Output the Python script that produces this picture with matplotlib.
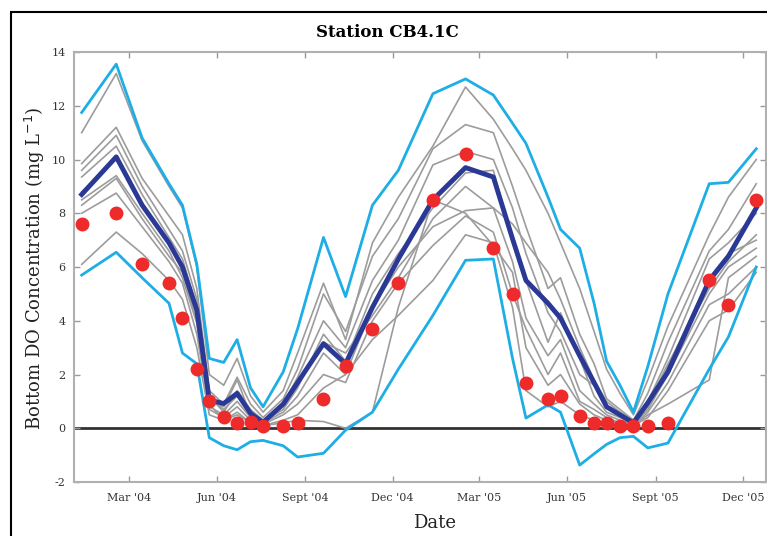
import matplotlib
matplotlib.use("Agg")
import matplotlib.pyplot as plt
from matplotlib.patches import Rectangle
import numpy as np

plt.rcParams['axes.unicode_minus'] = False

# sampling dates (cruise dates)
dates = np.array(['2004-01-12', '2004-02-17', '2004-03-15', '2004-04-12', '2004-04-26',
                  '2004-05-11', '2004-05-24', '2004-06-08', '2004-06-22', '2004-07-06',
                  '2004-07-19', '2004-08-09', '2004-08-24', '2004-09-20', '2004-10-13',
                  '2004-11-10', '2004-12-07', '2005-01-12', '2005-02-15', '2005-03-16',
                  '2005-04-05', '2005-04-19', '2005-05-12', '2005-05-25', '2005-06-14',
                  '2005-06-29', '2005-07-12', '2005-07-26', '2005-08-09', '2005-08-24',
                  '2005-09-14', '2005-10-27', '2005-11-16', '2005-12-15'], dtype='datetime64[D]')

observed = [7.6, 8.0, 6.1, 5.4, 4.1, 2.2, 1.0, 0.42, 0.2, 0.25, 0.1, 0.1, 0.2, 1.1, 2.3, 3.7,
            5.4, 8.5, 10.2, 6.7, 5.0, 1.7, 1.1, 1.2, 0.45, 0.2, 0.2, 0.1, 0.1, 0.1, 0.2,
            5.5, 4.6, 8.5]

ens_mean = [8.7, 10.1, 8.3, 6.9, 6.0, 4.4, 1.05, 0.92, 1.3, 0.55, 0.22, 0.9, 1.7, 3.15, 2.4,
            4.5, 6.3, 8.5, 9.7, 9.35, 7.05, 5.5, 4.65, 4.1, 2.7, 1.7, 0.8, 0.5, 0.2, 0.95,
            2.1, 5.5, 6.4, 8.2]

upper = [11.75, 13.55, 10.8, 9.1, 8.3, 6.1, 2.6, 2.45, 3.3, 1.5, 0.8, 2.1, 3.7, 7.1, 4.9,
         8.3, 9.6, 12.45, 13.0, 12.4, 11.35, 10.6, 8.6, 7.4, 6.7, 4.65, 2.5, 1.6, 0.6, 2.3,
         5.0, 9.1, 9.15, 10.4]

lower = [5.7, 6.55, 5.6, 4.65, 2.8, 2.4, -0.35, -0.65, -0.8, -0.5, -0.45, -0.65, -1.07,
         -0.93, -0.07, 0.6, 2.2, 4.2, 6.25, 6.3, 2.6, 0.38, 0.87, 0.6, -1.37, -0.95, -0.6,
         -0.35, -0.3, -0.73, -0.55, 2.2, 3.4, 6.0]

# individual ensemble members
members = [
    [11.0, 13.2, 10.7, 9.0, 8.2, 6.0, 2.0, 1.6, 2.6, 1.2, 0.6, 1.4, 2.8, 5.4, 3.3, 6.9, 8.6,
     10.5, 12.7, 11.5, 10.4, 9.6, 8.0, 6.9, 5.2, 3.6, 2.2, 1.3, 0.5, 1.8, 3.8, 7.2, 8.6, 10.0],
    [9.85, 11.2, 9.3, 7.9, 7.2, 5.2, 1.4, 0.9, 1.9, 0.9, 0.4, 1.1, 2.2, 5.0, 3.6, 6.4, 7.8,
     10.4, 11.3, 11.0, 9.0, 7.5, 5.2, 5.6, 3.5, 2.4, 1.1, 0.7, 0.3, 1.3, 3.2, 6.6, 7.4, 9.1],
    [9.6, 10.9, 9.0, 7.4, 6.6, 4.8, 1.2, 0.6, 1.4, 0.7, 0.3, 0.9, 1.9, 4.0, 3.0, 5.5, 7.0,
     9.8, 10.3, 10.0, 8.2, 6.5, 4.3, 3.6, 2.0, 1.6, 0.8, 0.5, 0.2, 1.0, 2.6, 6.3, 6.9, 8.0],
    [9.35, 10.5, 8.7, 7.1, 6.3, 4.5, 1.0, 0.8, 1.8, 0.5, 0.25, 0.7, 1.5, 3.5, 2.5, 5.0, 6.5,
     8.2, 9.5, 9.6, 7.0, 5.5, 3.2, 4.3, 2.6, 1.2, 0.6, 0.4, 0.2, 0.8, 2.3, 5.6, 6.5, 7.0],
    [8.5, 9.4, 8.0, 6.6, 5.6, 3.9, 0.8, 0.5, 1.0, 0.4, 0.2, 0.6, 1.2, 2.8, 2.0, 4.5, 6.0,
     7.5, 8.1, 8.2, 6.2, 4.1, 2.7, 3.3, 1.4, 0.9, 0.5, 0.3, 0.15, 0.7, 2.0, 5.0, 6.0, 6.7],
    [8.0, 8.75, 7.5, 6.2, 5.4, 3.5, 0.7, 0.4, 0.8, 0.3, 0.15, 0.5, 0.9, 2.0, 1.7, 4.0, 5.4,
     6.8, 7.9, 7.3, 5.0, 3.7, 2.0, 2.8, 1.0, 0.7, 0.4, 0.2, 0.1, 0.6, 1.7, 4.6, 5.0, 6.0],
    [6.1, 7.3, 6.5, 5.5, 4.8, 3.0, 0.5, 0.3, 0.6, 0.2, 0.1, 0.3, 0.5, 1.5, 2.0, 3.3, 4.2,
     5.5, 7.2, 6.9, 4.5, 1.4, 0.8, 1.0, 0.5, 0.3, 0.2, 0.1, 0.1, 0.4, 1.4, 4.0, 4.4, 5.8],
    [8.3, 9.3, 7.8, 6.4, 5.8, 4.0, 0.9, 0.3, 0.5, 0.2, 0.1, 0.2, 0.3, 0.25, 0.0, 0.6, 4.5,
     8.5, 8.0, 6.8, 5.8, 3.0, 1.6, 2.0, 0.9, 0.5, 0.3, 0.2, 0.1, 0.5, 0.9, 1.8, 5.6, 6.4],
    [8.8, 10.0, 8.4, 6.9, 6.1, 4.2, 1.1, 0.7, 1.2, 0.6, 0.3, 0.8, 1.6, 3.2, 2.8, 4.2, 5.6,
     7.8, 9.0, 8.2, 7.6, 6.9, 5.8, 4.8, 3.0, 1.8, 1.0, 0.6, 0.3, 0.9, 2.4, 5.2, 6.2, 7.2],
]

tick_dates = np.array(['2004-03-01', '2004-06-01', '2004-09-01', '2004-12-01',
                       '2005-03-01', '2005-06-01', '2005-09-01', '2005-12-01'], dtype='datetime64[D]')
tick_labels = ["Mar '04", "Jun '04", "Sept '04", "Dec '04",
               "Mar '05", "Jun '05", "Sept '05", "Dec '05"]

serif = 'DejaVu Serif'
fig = plt.figure(figsize=(7.67, 5.36), dpi=100)
ax = fig.add_axes([0.0965, 0.1007, 0.902, 0.8022])

for m in members:
    ax.plot(dates, m, color='#9c9c9c', lw=1.2, zorder=2)
ax.plot(dates, upper, color='#1eaee6', lw=2.0, zorder=3)
ax.plot(dates, lower, color='#1eaee6', lw=2.0, zorder=3)
ax.plot(dates, ens_mean, color='#2a3896', lw=3.5, zorder=4)
ax.axhline(0, color='#333333', lw=2, zorder=1)
ax.plot(dates, observed, 'o', color='#ee2a2a', ms=9, mec='#ee2a2a', zorder=5)

ax.set_ylim(-2, 14)
ax.set_yticks(range(-2, 15, 2))
ax.set_xlim(np.datetime64('2004-01-04'), np.datetime64('2005-12-25'))
ax.set_xticks(tick_dates)
ax.set_xticklabels(tick_labels)

ax.tick_params(direction='in', length=4, width=1, color='#999999', top=True, right=True,
               labelsize=8, labelcolor='#333333', pad=8)
ax.tick_params(axis='y', pad=6)
for lab in ax.get_xticklabels() + ax.get_yticklabels():
    lab.set_family(serif)
for s in ax.spines.values():
    s.set_color('#b0b0b0')
    s.set_linewidth(1.5)

fig.text(0.505, 0.94, 'Station CB4.1C', ha='center', va='center', fontsize=12,
         fontweight='bold', family=serif)
fig.text(0.045, 0.50, 'Bottom DO Concentration (mg L$^{-1}$)', rotation=90, ha='center',
         va='center', fontsize=13, family=serif, color='#222222')
fig.text(0.567, 0.025, 'Date', ha='center', va='center', fontsize=13, family=serif,
         color='#222222')

# frame around the figure
fig.add_artist(Rectangle((11 / 767, -0.2), 2, 0.2 + 1 - 12 / 536, transform=fig.transFigure,
                         fill=False, ec='black', lw=1.5))

fig.savefig('out.png', dpi=100)
